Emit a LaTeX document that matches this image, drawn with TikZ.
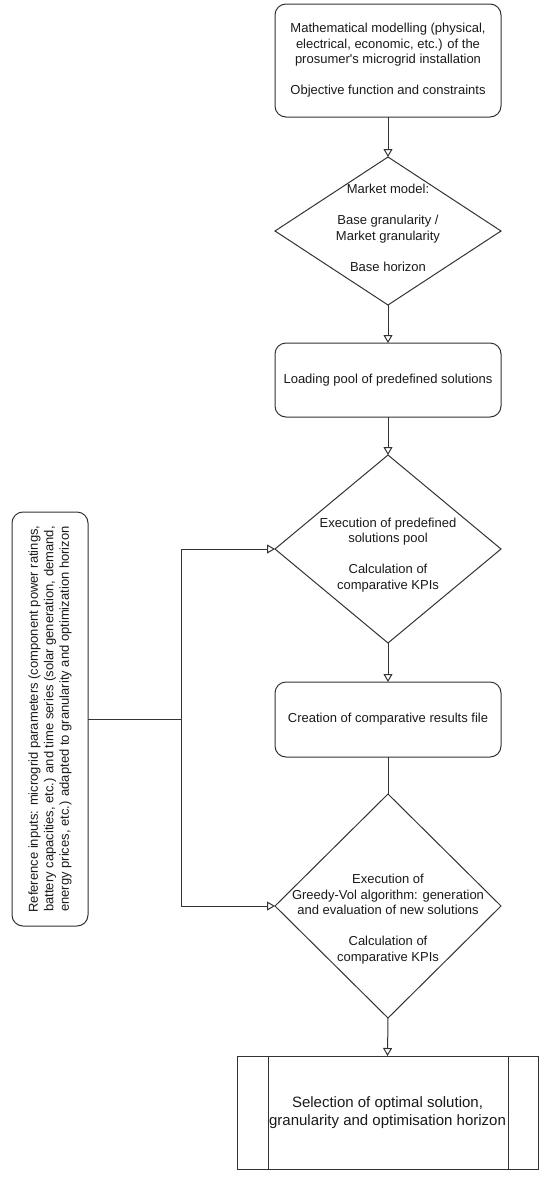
\documentclass[tikz,border=0pt]{standalone}
\usepackage{fontspec}
\setmainfont{Liberation Sans}
\usetikzlibrary{shapes.geometric,arrows.meta}
\definecolor{ln}{HTML}{333333}
\definecolor{tx}{HTML}{1A1A1A}
\begin{document}
\begin{tikzpicture}[x=1pt,y=1pt,
  every node/.style={outer sep=0pt, inner sep=0pt, text=tx},
  rbox/.style={draw=ln, line width=1pt, rounded corners=11pt, align=center,
    font=\fontsize{13}{15.5}\selectfont},
  dshape/.style={diamond, draw=ln, line width=1pt},
  dtext/.style={align=center, font=\fontsize{13}{15.5}\selectfont},
  arr/.style={draw=ln, line width=1pt, -{Triangle[open,length=8pt,width=9pt]}},
  plain/.style={draw=ln, line width=1pt}]
\useasboundingbox (0,0) rectangle (550,-1178);
\fill[white] (0,0) rectangle (550,-1178);

\node[rbox, minimum width=226pt, minimum height=113pt] (m) at (388,-60.5)
  {Mathematical modelling (physical,\\electrical, economic, etc.) of the\\prosumer\textquotesingle s microgrid installation\\[15.5pt]Objective function and constraints};

\node[dshape, minimum width=226pt, minimum height=148pt] (d1) at (388,-231) {};
\node[dtext] (d1t) at (388,-228) {Market model:\\[15.5pt]Base granularity /\\Market granularity\\[15.5pt]Base horizon};

\node[rbox, minimum width=226pt, minimum height=74pt] (lp) at (388,-380)
  {Loading pool of predefined solutions};

\node[dshape, minimum width=226pt, minimum height=188pt] (d2) at (388,-549) {};
\node[dtext] (d2t) at (388,-555) {Execution of predefined\\solutions pool\\[15.5pt]Calculation of\\comparative KPIs};

\node[rbox, minimum width=226pt, minimum height=75pt] (cr) at (388,-719.5)
  {Creation of comparative results file};

\node[dshape, minimum width=226pt, minimum height=224pt] (d3) at (388,-906) {};
\node[dtext] (d3t) at (388,-919) {Execution of\\Greedy-Vol algorithm: generation\\and evaluation of new solutions\\[15.5pt]Calculation of\\comparative KPIs};

\node[draw=ln, line width=1pt, minimum width=301pt, minimum height=113pt, align=center,
  font=\fontsize{15}{18}\selectfont] (sel) at (387.5,-1112.5)
  {Selection of optimal solution,\\granularity and optimisation horizon};
\draw[plain] ([xshift=31pt]sel.north west) -- ([xshift=31pt]sel.south west);
\draw[plain] ([xshift=-30pt]sel.north east) -- ([xshift=-30pt]sel.south east);

\node[rbox, rotate=90, minimum width=414pt, minimum height=76pt] (ref) at (50,-719)
  {Reference inputs: microgrid parameters (component power ratings,\\battery capacities, etc.) and time series (solar generation, demand,\\energy prices, etc.) adapted to granularity and optimization horizon};

\draw[arr] (m.south) -- (d1.north);
\draw[arr] (d1.south) -- (lp.north);
\draw[arr] (lp.south) -- (d2.north);
\draw[arr] (d2.south) -- (cr.north);
\draw[plain] (cr.south) -- (d3.north);
\draw[arr] (d3.south) -- (sel.north);

\draw[plain] (ref.south) -- (181,-719) coordinate (j);
\draw[arr] (j) |- (d2.west);
\draw[arr] (j) |- (d3.west);
\end{tikzpicture}
\end{document}
